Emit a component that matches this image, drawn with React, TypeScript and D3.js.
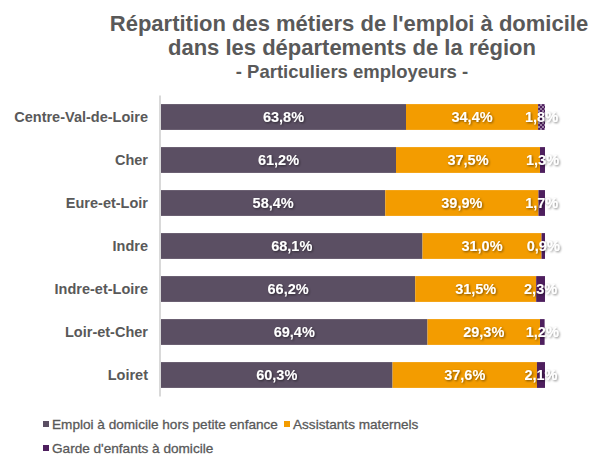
import { useEffect, useRef } from 'react';
import * as d3 from 'd3';

const categories = ['Centre-Val-de-Loire', 'Cher', 'Eure-et-Loir', 'Indre', 'Indre-et-Loire', 'Loir-et-Cher', 'Loiret'];
const seriesNames = ['Emploi à domicile hors petite enfance', 'Assistants maternels', "Garde d'enfants à domicile"];
const emploi = [63.8, 61.2, 58.4, 68.1, 66.2, 69.4, 60.3];
const assistants = [34.4, 37.5, 39.9, 31.0, 31.5, 29.3, 37.6];
const garde = [1.8, 1.3, 1.7, 0.9, 2.3, 1.2, 2.1];
const colors = ['#5B4F63', '#F39C00', '#4E1F5E'];

const fmt = (v: number) => v.toFixed(1).replace('.', ',') + '%';

const App = () => {
  const svgRef = useRef<SVGSVGElement>(null);

  useEffect(() => {
    if (!svgRef.current) return;
    const width = 598;
    const height = 455;
    const margin = { top: 95.5, left: 160, right: 53, bottom: 58.5 };

    const svg = d3.select(svgRef.current);
    svg.selectAll('*').remove();
    svg.attr('width', width).attr('height', height);

    const defs = svg.append('defs');
    const filter = defs.append('filter').attr('id', 'shadow').attr('x', '-20%').attr('y', '-20%').attr('width', '140%').attr('height', '160%');
    filter.append('feDropShadow').attr('dx', 1).attr('dy', 1).attr('stdDeviation', 0.8).attr('flood-color', '#000').attr('flood-opacity', 0.5);

    const pattern = defs.append('pattern').attr('id', 'dots').attr('width', 4).attr('height', 4).attr('patternUnits', 'userSpaceOnUse');
    pattern.append('rect').attr('width', 4).attr('height', 4).attr('fill', colors[2]);
    pattern.append('circle').attr('cx', 1).attr('cy', 1).attr('r', 0.8).attr('fill', '#fff');
    pattern.append('circle').attr('cx', 3).attr('cy', 3).attr('r', 0.8).attr('fill', '#fff');

    const font = 'Liberation Sans, Arial, sans-serif';

    // title
    const title = svg.append('g').attr('font-family', font).attr('font-weight', 'bold').attr('fill', '#595959').attr('text-anchor', 'middle');
    title.append('text').attr('x', 349).attr('y', 31).attr('font-size', 22).text("Répartition des métiers de l'emploi à domicile");
    title.append('text').attr('x', 352).attr('y', 55).attr('font-size', 22).text('dans les départements de la région');
    title.append('text').attr('x', 352).attr('y', 78).attr('font-size', 18.5).text('- Particuliers employeurs -');

    const x = d3.scaleLinear().domain([0, 100]).range([margin.left + 1, width - margin.right]);
    const y = d3.scaleBand().domain(categories).range([margin.top, height - margin.bottom]).paddingInner(0.4).paddingOuter(0.2);

    const rows = categories.map((c, i) => ({ cat: c, vals: [emploi[i], assistants[i], garde[i]] }));
    const stack = d3.stack<any>().keys(['0', '1', '2']).value((d, k) => d.vals[+k]);
    const stacked = stack(rows);

    stacked.forEach((layer, si) => {
      const g = svg.append('g');
      g.selectAll('rect')
        .data(layer)
        .enter()
        .append('rect')
        .attr('x', d => x(d[0]))
        .attr('y', d => y(d.data.cat)!)
        .attr('width', d => x(d[1]) - x(d[0]))
        .attr('height', y.bandwidth())
        .attr('fill', (d, i) => (si === 2 && i === 0 ? 'url(#dots)' : colors[si]));
    });

    // axis line
    svg.append('line')
      .attr('x1', margin.left).attr('x2', margin.left)
      .attr('y1', margin.top).attr('y2', height - margin.bottom)
      .attr('stroke', '#d9d9d9').attr('stroke-width', 2);

    // category labels
    svg.append('g')
      .attr('font-family', font).attr('font-size', 14.5).attr('font-weight', 'bold').attr('fill', '#595959').attr('text-anchor', 'end')
      .selectAll('text')
      .data(categories)
      .enter()
      .append('text')
      .attr('x', 148)
      .attr('y', d => y(d)! + y.bandwidth() / 2)
      .attr('dy', '0.35em')
      .text(d => d);

    // value labels
    stacked.forEach(layer => {
      svg.append('g')
        .attr('font-family', font).attr('font-size', 14.5).attr('font-weight', 'bold').attr('fill', '#fff').attr('text-anchor', 'middle')
        .attr('filter', 'url(#shadow)')
        .selectAll('text')
        .data(layer)
        .enter()
        .append('text')
        .attr('x', d => (x(d[0]) + x(d[1])) / 2)
        .attr('y', d => y(d.data.cat)! + y.bandwidth() / 2)
        .attr('dy', '0.36em')
        .text(d => fmt(d[1] - d[0]));
    });

    // legend
    const legendItems = [
      { name: seriesNames[0], color: colors[0], x: 43, y: 424 },
      { name: seriesNames[1], color: colors[1], x: 284, y: 424 },
      { name: seriesNames[2], color: colors[2], x: 43, y: 448 },
    ];
    const lg = svg.append('g').attr('font-family', font).attr('font-size', 13.6).attr('fill', '#595959').attr('stroke', '#595959').attr('stroke-width', 0.3);
    legendItems.forEach(it => {
      lg.append('rect').attr('x', it.x).attr('y', it.y - 3).attr('width', 6).attr('height', 6).attr('fill', it.color).attr('stroke', 'none');
      lg.append('text').attr('x', it.x + 9).attr('y', it.y).attr('dy', '0.35em').text(it.name);
    });
  }, []);

  return (
    <div style={{ position: 'absolute', left: 0, top: 0 }}>
      <svg ref={svgRef}></svg>
    </div>
  );
};

export default App;
